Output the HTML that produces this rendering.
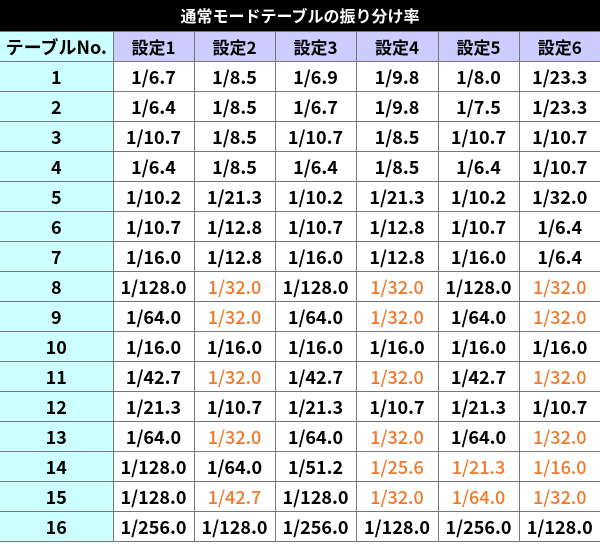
<!DOCTYPE html>
<html><head><meta charset="utf-8"><style>
body{margin:0;background:#fff;width:600px;height:544px;overflow:hidden}
.t{position:absolute;left:0;top:0;width:600px;height:31px;background:#000;color:#fff;font:bold 16px "Noto Sans CJK JP",sans-serif;text-align:center;line-height:31px}
table{position:absolute;left:0;top:31px;border-collapse:collapse;width:600px;table-layout:fixed;font:bold 18px "Noto Sans CJK JP",sans-serif}
td{border:1px solid #777;text-align:center;height:29px;padding:0;color:#000;line-height:28px;overflow:hidden;white-space:nowrap}
tr{border-bottom:1px solid #222}
tr td:first-child{background:#ccffff;border-left:none}
tr.h td{background:#ccccff;font-size:17px}
tr.h td:first-child{background:#ccffff;font-size:18px}
td:last-child{border-right:none}
.o{color:#f07828;font-weight:500}
</style></head><body>
<div class="t">通常モードテーブルの振り分け率</div>
<table>
<colgroup><col style="width:113px"><col style="width:81px"><col style="width:81px"><col style="width:81px"><col style="width:82px"><col style="width:81px"><col style="width:81px"></colgroup>
<tr class="h"><td>テーブルNo.</td><td>設定1</td><td>設定2</td><td>設定3</td><td>設定4</td><td>設定5</td><td>設定6</td></tr>
<tr><td>1</td><td>1/6.7</td><td>1/8.5</td><td>1/6.9</td><td>1/9.8</td><td>1/8.0</td><td>1/23.3</td></tr>
<tr><td>2</td><td>1/6.4</td><td>1/8.5</td><td>1/6.7</td><td>1/9.8</td><td>1/7.5</td><td>1/23.3</td></tr>
<tr><td>3</td><td>1/10.7</td><td>1/8.5</td><td>1/10.7</td><td>1/8.5</td><td>1/10.7</td><td>1/10.7</td></tr>
<tr><td>4</td><td>1/6.4</td><td>1/8.5</td><td>1/6.4</td><td>1/8.5</td><td>1/6.4</td><td>1/10.7</td></tr>
<tr><td>5</td><td>1/10.2</td><td>1/21.3</td><td>1/10.2</td><td>1/21.3</td><td>1/10.2</td><td>1/32.0</td></tr>
<tr><td>6</td><td>1/10.7</td><td>1/12.8</td><td>1/10.7</td><td>1/12.8</td><td>1/10.7</td><td>1/6.4</td></tr>
<tr><td>7</td><td>1/16.0</td><td>1/12.8</td><td>1/16.0</td><td>1/12.8</td><td>1/16.0</td><td>1/6.4</td></tr>
<tr><td>8</td><td>1/128.0</td><td class="o">1/32.0</td><td>1/128.0</td><td class="o">1/32.0</td><td>1/128.0</td><td class="o">1/32.0</td></tr>
<tr><td>9</td><td>1/64.0</td><td class="o">1/32.0</td><td>1/64.0</td><td class="o">1/32.0</td><td>1/64.0</td><td class="o">1/32.0</td></tr>
<tr><td>10</td><td>1/16.0</td><td>1/16.0</td><td>1/16.0</td><td>1/16.0</td><td>1/16.0</td><td>1/16.0</td></tr>
<tr><td>11</td><td>1/42.7</td><td class="o">1/32.0</td><td>1/42.7</td><td class="o">1/32.0</td><td>1/42.7</td><td class="o">1/32.0</td></tr>
<tr><td>12</td><td>1/21.3</td><td>1/10.7</td><td>1/21.3</td><td>1/10.7</td><td>1/21.3</td><td>1/10.7</td></tr>
<tr><td>13</td><td>1/64.0</td><td class="o">1/32.0</td><td>1/64.0</td><td class="o">1/32.0</td><td>1/64.0</td><td class="o">1/32.0</td></tr>
<tr><td>14</td><td>1/128.0</td><td>1/64.0</td><td>1/51.2</td><td class="o">1/25.6</td><td class="o">1/21.3</td><td class="o">1/16.0</td></tr>
<tr><td>15</td><td>1/128.0</td><td class="o">1/42.7</td><td>1/128.0</td><td class="o">1/32.0</td><td class="o">1/64.0</td><td class="o">1/32.0</td></tr>
<tr><td>16</td><td>1/256.0</td><td>1/128.0</td><td>1/256.0</td><td>1/128.0</td><td>1/256.0</td><td>1/128.0</td></tr>
</table>
</body></html>
